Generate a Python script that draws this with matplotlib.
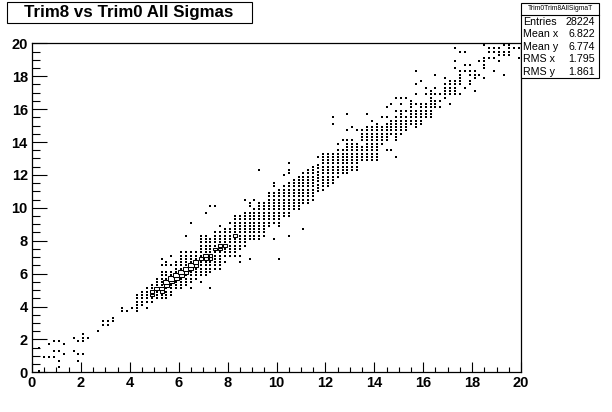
import numpy as np
import matplotlib
matplotlib.use("Agg")
import matplotlib.pyplot as plt
from matplotlib.patches import Rectangle

plt.rcParams['font.family'] = ['Liberation Sans', 'DejaVu Sans']

TITLE = "Trim8 vs Trim0 All Sigmas"
STATS_NAME = "Trim0Trim8AllSigmaT"
STATS_LABELS = ["Entries", "Mean x", "Mean y", "RMS x", "RMS y"]
STATS_VALUES = ["28224", "6.822", "6.774", "1.795", "1.861"]
TICKS = [0, 2, 4, 6, 8, 10, 12, 14, 16, 18, 20]

# Filled histogram cells: each entry is a vertical run (x centre, lowest y, highest y)
seg_x = [0.3,0.3,0.5,0.7,0.7,0.9,0.9,0.9,1.1,1.1,1.1,1.1,1.3,1.3,1.7,1.7,1.9,1.9,1.9,2.1,2.1,2.3,2.7,
         2.9,3.1,3.3,3.7,3.9,4.1,4.3,4.3,4.5,4.7,4.7,4.9,5.1,5.3,5.3,5.3,5.5,5.5,5.7,5.7,5.7,5.9,
         6.1,6.3,6.3,6.5,6.5,6.5,6.7,6.9,6.9,7.1,7.1,7.3,7.3,7.3,7.5,7.5,7.7,7.7,7.9,7.9,
         8.1,8.1,8.3,8.5,8.5,8.5,8.7,8.7,8.9,8.9,8.9,9.1,9.1,9.3,9.3,9.5,9.7,9.7,
         9.9,9.9,9.9,10.1,10.1,10.3,10.3,10.5,10.5,10.5,10.5,10.7,10.9,11.1,11.1,11.3,
         11.5,11.7,11.7,11.9,12.1,12.3,12.3,12.3,12.5,12.5,12.7,12.7,12.9,12.9,12.9,
         13.1,13.1,13.3,13.3,13.5,13.5,13.7,13.7,13.9,13.9,14.1,14.3,14.3,
         14.5,14.5,14.5,14.5,14.7,14.7,14.7,14.9,14.9,14.9,14.9,
         15.1,15.1,15.1,15.1,15.3,15.3,15.3,15.5,15.5,15.7,15.7,15.7,15.7,15.7,
         15.9,15.9,16.1,16.1,16.1,16.3,16.5,16.5,16.5,16.5,16.7,16.7,16.7,
         16.9,16.9,17.1,17.1,17.3,17.3,17.3,17.3,17.5,17.5,17.5,17.7,17.7,17.7,17.7,
         17.9,17.9,17.9,18.1,18.1,18.3,18.3,18.5,18.5,18.5,18.7,18.7,18.9,18.9,18.9,
         19.1,19.1,19.3,19.3,19.3,19.5,19.7,19.9,19.9]
seg_low = [0.1,1.5,0.9,0.9,1.7,0.9,1.3,1.9,0.3,0.7,1.3,1.9,1.1,1.7,1.3,2.1,0.7,1.1,1.9,1.1,1.9,2.1,2.5,
           2.9,2.9,3.1,3.7,3.7,3.9,3.7,4.1,4.1,3.9,4.3,4.3,4.5,4.5,6.5,6.9,4.5,6.5,4.7,6.5,7.1,5.1,
           5.1,5.3,8.3,5.1,5.5,9.1,5.7,5.5,5.9,5.9,9.7,5.1,6.1,10.1,6.3,10.1,6.3,8.9,6.7,7.1,
           7.1,9.1,7.1,6.7,7.1,7.5,7.7,10.5,6.9,8.1,10.1,8.1,10.5,8.1,12.3,8.3,8.9,9.1,
           8.1,9.1,11.3,6.9,8.9,9.5,12.0,8.3,9.5,12.1,12.7,9.9,9.9,8.7,10.3,10.3,
           10.5,11.0,13.1,11.1,11.3,11.5,15.1,15.5,11.9,13.9,12.1,14.1,12.1,14.7,15.7,
           12.3,14.9,12.3,14.7,12.9,14.1,12.9,15.7,12.9,15.3,12.9,13.9,15.5,
           13.5,14.1,15.5,16.1,13.5,14.5,16.3,13.1,14.1,15.9,16.7,
           14.5,15.9,16.3,16.7,14.7,15.9,16.7,15.1,16.1,14.9,16.3,16.9,17.5,18.3,
           15.1,17.7,15.5,16.9,17.3,15.5,16.1,16.9,17.3,18.1,16.1,16.5,16.9,
           16.7,17.9,16.3,16.9,16.9,18.5,18.9,19.7,16.9,17.5,19.5,17.3,18.3,18.7,19.5,
           17.5,18.1,18.7,17.1,17.9,18.1,18.9,17.9,18.5,19.9,19.1,19.5,18.3,19.1,19.5,
           18.9,19.3,18.1,19.3,19.9,19.3,19.7,19.1,19.7]
seg_high = [0.1,1.5,0.9,0.9,1.7,0.9,1.3,1.9,0.3,0.7,1.3,1.9,1.1,1.7,1.3,2.1,0.7,1.1,1.9,1.1,2.3,2.1,2.5,
            3.1,3.1,3.3,3.9,3.7,3.9,3.9,4.7,4.9,3.9,5.1,5.3,5.7,6.1,6.5,6.9,6.1,6.7,6.1,6.5,7.1,6.7,
            7.3,7.3,8.3,5.1,7.3,9.1,7.3,5.5,8.3,8.3,9.7,5.1,8.1,10.1,8.5,10.1,8.5,8.9,6.7,8.7,
            8.7,9.1,9.5,6.7,7.1,9.5,9.7,10.5,6.9,9.7,10.3,10.0,10.5,10.3,12.3,10.3,8.9,10.9,
            8.1,10.9,11.5,6.9,11.1,11.3,12.0,8.3,11.5,12.3,12.7,11.7,12.0,8.7,12.1,12.3,
            12.5,12.7,13.1,13.3,13.3,13.3,15.1,15.5,13.5,13.9,13.5,14.1,14.1,14.7,15.7,
            14.1,14.9,13.9,14.7,13.7,14.7,14.9,15.7,14.9,15.3,15.1,14.9,15.5,
            13.5,15.1,15.5,16.1,13.5,15.3,16.3,13.1,15.5,15.9,16.7,
            15.7,15.9,16.3,16.7,15.5,15.9,16.7,15.9,16.5,15.9,16.3,16.9,17.5,18.3,
            16.3,17.7,16.3,16.9,17.3,17.1,16.5,16.9,17.3,18.1,16.1,16.5,16.9,
            17.5,17.9,16.3,17.7,17.7,18.5,18.9,19.7,16.9,18.3,19.5,17.3,18.3,18.7,19.5,
            17.7,18.3,18.7,17.1,18.3,18.1,18.9,17.9,19.1,19.9,19.1,19.7,18.3,19.1,19.7,
            18.9,19.7,18.1,19.5,19.9,19.9,19.7,19.1,19.7]

# Densest cells, drawn as open boxes: x centre, y centre, box width as share of a bin
box_x = [4.9,4.9,5.1,5.3,5.3,5.5,5.5,5.7,5.7,5.9,5.9,6.1,6.1,6.3,6.3,6.5,6.5,6.7,6.7,6.9,7.1,7.1,7.3,7.3,7.5,7.7,7.7,7.9,8.3]
box_y = [4.7,4.9,5.1,4.9,5.1,5.3,5.5,5.5,5.7,5.7,5.9,5.9,6.1,6.1,6.3,6.3,6.5,6.5,6.7,6.9,6.9,7.1,6.9,7.1,7.5,7.5,7.7,7.7,8.3]
box_w = [0.8,0.8,1.0,0.8,1.0,1.0,1.25,1.0,1.25,1.1,1.25,1.0,1.25,1.0,1.25,1.0,1.25,0.8,1.0,0.9,0.8,0.9,0.8,0.8,0.8,0.8,0.8,0.8,0.8]

W, H = 612, 412
fig = plt.figure(figsize=(W / 100, H / 100), dpi=100, facecolor="white")
L, R, T, B = 32, 521, 43.3, 372.3
ax = fig.add_axes([L / W, 1 - B / H, (R - L) / W, (B - T) / H])
ax.set_xlim(0, 20)
ax.set_ylim(0, 20)

px = []
py = []
for x, lo, hi in zip(seg_x, seg_low, seg_high):
    for y in np.arange(lo, hi + 0.05, 0.2):
        px.append(x)
        py.append(y)
ax.plot(px, py, linestyle="none", marker="s", markersize=1.5, markeredgewidth=0,
        color="black", zorder=2, clip_on=False)

for x, y, w in zip(box_x, box_y, box_w):
    bw = 0.2 * w
    ax.add_patch(Rectangle((x - bw / 2, y - bw / 2), bw, bw, facecolor="white",
                           edgecolor="black", linewidth=0.75, zorder=3, snap=True))

ax.set_xticks(TICKS)
ax.set_yticks(TICKS)
ax.set_xticks(np.arange(0, 20.01, 0.5), minor=True)
ax.set_yticks(np.arange(0, 20.01, 0.5), minor=True)
ax.tick_params(axis="x", which="major", direction="in", length=7.2, width=0.8, pad=3, labelsize=10.5)
ax.tick_params(axis="x", which="minor", direction="in", length=3.6, width=0.8)
ax.tick_params(axis="y", which="major", direction="in", length=10.5, width=0.8, pad=3, labelsize=10.5)
ax.tick_params(axis="y", which="minor", direction="in", length=5.4, width=0.8)
for lab in ax.get_xticklabels() + ax.get_yticklabels():
    lab.set_fontweight("bold")
for s in ax.spines.values():
    s.set_linewidth(0.9)

def box(x0, y0, x1, y1):
    fig.add_artist(Rectangle((x0 / W, 1 - y1 / H), (x1 - x0) / W, (y1 - y0) / H,
                             transform=fig.transFigure, facecolor="white",
                             edgecolor="black", linewidth=0.8, zorder=5))

box(7, 2.5, 252, 23)
fig.text(129 / W, 1 - 13 / H, TITLE, ha="center", va="center", fontsize=12.2,
         fontweight="bold", zorder=6)

box(521, 2.5, 599, 78)
fig.add_artist(plt.Line2D([521 / W, 599 / W], [1 - 14.5 / H, 1 - 14.5 / H],
                          color="black", linewidth=0.8, zorder=6))
fig.text(560 / W, 1 - 8.5 / H, STATS_NAME, ha="center", va="center", fontsize=4.9, zorder=6)
for i, (a, b) in enumerate(zip(STATS_LABELS, STATS_VALUES)):
    y = 1 - (21.7 + i * 12.5) / H
    fig.text(523 / W, y, a, ha="left", va="center", fontsize=7.7, zorder=6)
    fig.text(595 / W, y, b, ha="right", va="center", fontsize=7.7, zorder=6)

fig.savefig("out.png", dpi=100, facecolor="white")
